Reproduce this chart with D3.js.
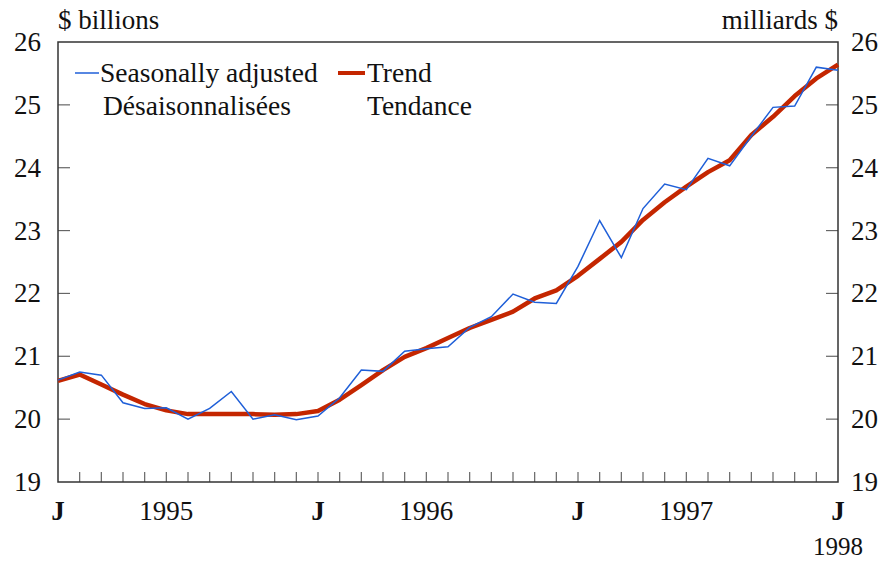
<!DOCTYPE html>
<html><head><meta charset="utf-8">
<script src="https://cdn.jsdelivr.net/npm/d3@7"></script>
<style>body{margin:0;background:#fff}text{font-family:'Liberation Serif','Times New Roman',serif}</style>
</head><body>
<script>
const months = d3.range(37); // Jan 1995 .. Jan 1998
const seasonal = [20.62,20.75,20.70,20.26,20.17,20.18,20.00,20.17,20.44,20.00,20.07,19.99,20.05,20.34,20.78,20.76,21.08,21.12,21.15,21.46,21.63,21.99,21.86,21.84,22.43,23.16,22.57,23.35,23.74,23.65,24.15,24.03,24.50,24.96,24.98,25.60,25.55];
const trend = [20.61,20.71,20.55,20.39,20.24,20.14,20.08,20.08,20.08,20.08,20.07,20.08,20.13,20.31,20.54,20.78,20.99,21.13,21.29,21.45,21.58,21.71,21.92,22.05,22.28,22.55,22.82,23.17,23.45,23.70,23.93,24.12,24.52,24.81,25.14,25.42,25.64];
const yTicks = [19,20,21,22,23,24,25,26];
const xLabels = [{i:0,t:"J",b:true},{i:5,t:"1995"},{i:12,t:"J",b:true},{i:17,t:"1996"},{i:24,t:"J",b:true},{i:29,t:"1997"},{i:36,t:"J",b:true}];
const legend = [{en:"Seasonally adjusted",fr:"Désaisonnalisées",color:"#1f5fd8",w:1.5},{en:"Trend",fr:"Tendance",color:"#c42600",w:4.5}];

const W=886,H=562,L=58,R=838,T=42,B=482;
const svg=d3.select("body").append("svg").attr("width",W).attr("height",H);
const x=d3.scaleLinear().domain([0,36]).range([L,R]);
const y=d3.scaleLinear().domain([19,26]).range([B,T]);

function label(px,py,str,size,anchor,bold){
  svg.append("text").attr("x",px).attr("y",py).attr("font-size",size)
   .attr("text-anchor",anchor||"start").attr("font-weight",bold?"bold":"normal")
   .style("font-family","'Liberation Serif', 'Times New Roman', serif").attr("fill","#111").text(str);
}

svg.append("g").selectAll("line").data(months.slice(1,-1)).join("line")
 .attr("x1",d=>x(d)).attr("x2",d=>x(d)).attr("y1",B).attr("y2",B-10)
 .attr("stroke","#666").attr("stroke-width",1.2);
svg.append("g").selectAll("line").data(yTicks.slice(1,-1)).join("line")
 .attr("x1",L).attr("x2",L+12).attr("y1",d=>y(d)).attr("y2",d=>y(d)).attr("stroke","#666").attr("stroke-width",1.2);
svg.append("g").selectAll("line").data(yTicks.slice(1,-1)).join("line")
 .attr("x1",R).attr("x2",R-12).attr("y1",d=>y(d)).attr("y2",d=>y(d)).attr("stroke","#666").attr("stroke-width",1.2);
svg.append("rect").attr("x",L).attr("y",T).attr("width",R-L).attr("height",B-T)
 .attr("fill","none").attr("stroke","#333").attr("stroke-width",1.5);

yTicks.forEach(v=>{ label(41,y(v)+9,String(v),27,"end"); label(851,y(v)+9,String(v),27,"start"); });
xLabels.forEach(d=>label(x(d.i),520,d.t,27,"middle",d.b));
label(x(36),555,"1998",25,"middle");
label(58,29,"$ billions",27,"start");
label(838,29,"milliards $",27,"end");

const line=d3.line().x((d,i)=>x(i)).y(d=>y(d));
svg.append("path").datum(trend).attr("d",line).attr("fill","none").attr("stroke",legend[1].color).attr("stroke-width",legend[1].w).attr("stroke-linejoin","round");
svg.append("path").datum(seasonal).attr("d",line).attr("fill","none").attr("stroke",legend[0].color).attr("stroke-width",legend[0].w);

const lx=[75,338];
legend.forEach((d,k)=>{
  svg.append("line").attr("x1",lx[k]).attr("x2",lx[k]+(k?27:24)).attr("y1",73).attr("y2",73)
   .attr("stroke",d.color).attr("stroke-width",k?4:1.5);
  const tx=lx[k]+(k?29:25);
  label(tx,82,d.en,27.5,"start");
  label(tx+(k?0:3),115,d.fr,27.5,"start");
});
</script>
</body></html>
